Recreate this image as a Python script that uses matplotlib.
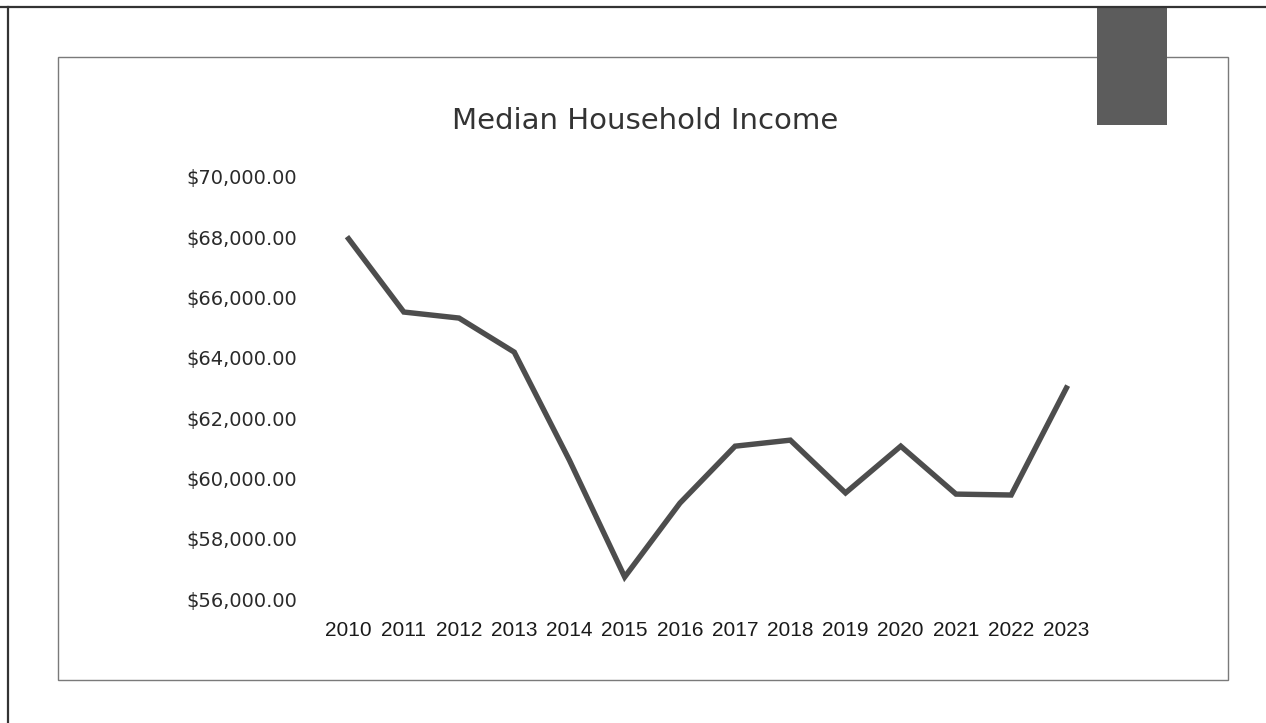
import matplotlib.pyplot as plt
from matplotlib.patches import Rectangle
from matplotlib.lines import Line2D
from matplotlib.ticker import FuncFormatter

# Median household income by year
years = ['2010', '2011', '2012', '2013', '2014', '2015', '2016',
         '2017', '2018', '2019', '2020', '2021', '2022', '2023']
income = [67950, 65520, 65320, 64190, 60600, 56730, 59180,
          61070, 61270, 59520, 61070, 59480, 59450, 63000]

W, H = 1266, 723
fig = plt.figure(figsize=(W / 100, H / 100), dpi=100)

# page edges of the scan and the chart frame
fig.add_artist(Line2D([0, 1], [1 - 7 / H, 1 - 7 / H], color='#333333', lw=1.6))
fig.add_artist(Line2D([8 / W, 8 / W], [0, 1 - 7 / H], color='#333333', lw=1.6))
fig.add_artist(Rectangle((58 / W, 1 - 680 / H), (1228 - 58) / W, (680 - 57) / H,
                         fill=False, ec='#7a7a7a', lw=1.0))
fig.add_artist(Rectangle((1097 / W, 1 - 125 / H), 70 / W, 118 / H,
                         fc='#5c5c5c', ec='none'))

ax = fig.add_axes([321 / W, 1 - 599 / H, 773 / W, 422 / H])
x = list(range(len(years)))
ax.plot(x, income, color='#4d4d4d', lw=3.9, solid_joinstyle='miter')

ax.set_xlim(-0.5, len(years) - 0.5)
ax.set_ylim(56000, 70000)
ax.set_yticks(range(56000, 70001, 2000))
ax.yaxis.set_major_formatter(FuncFormatter(lambda v, p: f'${v:,.2f}'))
ax.set_xticks(x)
ax.set_xticklabels(years)
ax.tick_params(axis='y', length=0, pad=17, labelsize=14, labelcolor='#2a2a2a')
ax.tick_params(axis='x', length=0, pad=16, labelsize=15, labelcolor='#1a1a1a')
for lbl in ax.get_yticklabels():
    lbl.set_family('DejaVu Sans')
for lbl in ax.get_xticklabels():
    lbl.set_family('Liberation Sans')
for s in ax.spines.values():
    s.set_visible(False)

fig.text(645 / W, 1 - 121 / H, 'Median Household Income', ha='center', va='center',
         fontsize=21, color='#333333', family='DejaVu Sans')

plt.savefig('out.png', dpi=100)
